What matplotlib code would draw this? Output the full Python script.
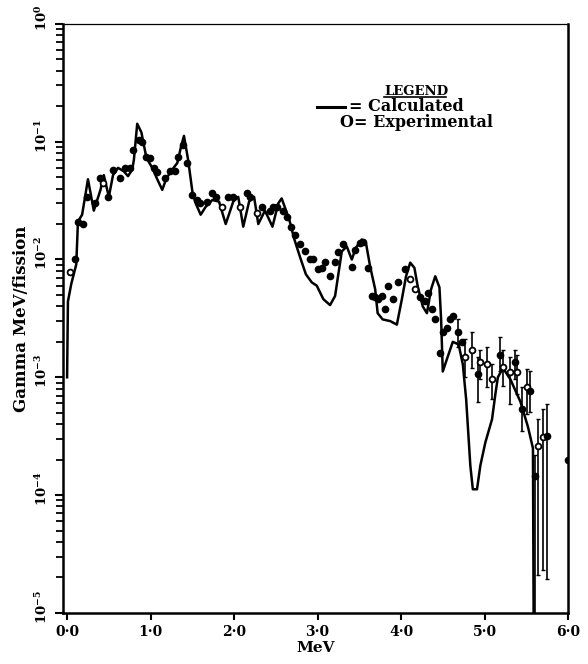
import numpy as np
import matplotlib
matplotlib.use("Agg")
from matplotlib import pyplot as plt
from matplotlib.ticker import LogLocator, NullFormatter
from matplotlib.lines import Line2D
from matplotlib.transforms import ScaledTranslation

plt.rcParams['font.family'] = ['DejaVu Serif']
plt.rcParams['font.weight'] = 'bold'
plt.rcParams['axes.labelweight'] = 'bold'
plt.rcParams['mathtext.fontset'] = 'dejavuserif'
plt.rcParams['mathtext.default'] = 'bf'

# calculated spectrum (MeV, gamma MeV/fission)
calc_E = [0.00, 0.01, 0.05, 0.11, 0.13, 0.18, 0.25, 0.32, 0.40, 0.44, 0.50,
          0.55, 0.61, 0.68, 0.73, 0.78, 0.80, 0.84, 0.89, 0.95, 1.02, 1.08,
          1.14, 1.19, 1.26, 1.32, 1.37, 1.40, 1.45, 1.50, 1.54, 1.60, 1.66,
          1.74, 1.82, 1.90, 1.99, 2.05, 2.11, 2.18, 2.24, 2.29, 2.37, 2.46,
          2.53, 2.57, 2.66, 2.72, 2.79, 2.86, 2.93, 2.99, 3.07, 3.15, 3.21,
          3.29, 3.35, 3.41, 3.46, 3.53, 3.58, 3.63, 3.69, 3.72, 3.78, 3.87,
          3.95, 4.01, 4.06, 4.11, 4.16, 4.20, 4.26, 4.31, 4.36, 4.41, 4.46,
          4.48, 4.50, 4.56, 4.62, 4.69, 4.74, 4.78, 4.83, 4.86, 4.91, 4.95,
          5.01, 5.09, 5.13, 5.16, 5.22, 5.31, 5.43, 5.52, 5.58, 5.60]
calc_G = [1.0e-3, 4.4e-3, 6.2e-3, 9.1e-3, 2.1e-2, 2.4e-2, 4.8e-2, 2.6e-2,
          3.9e-2, 5.2e-2, 3.4e-2, 5.2e-2, 6.0e-2, 5.6e-2, 5.1e-2, 5.8e-2,
          7.0e-2, 1.42e-1, 1.2e-1, 7.3e-2, 6.0e-2, 4.8e-2, 3.9e-2, 4.9e-2,
          5.8e-2, 6.6e-2, 9.4e-2, 1.12e-1, 7.0e-2, 3.8e-2, 3.0e-2, 2.4e-2,
          2.8e-2, 3.2e-2, 3.1e-2, 2.0e-2, 3.1e-2, 3.4e-2, 1.9e-2, 3.1e-2,
          3.4e-2, 2.0e-2, 2.6e-2, 1.9e-2, 3.0e-2, 3.3e-2, 2.2e-2, 1.5e-2,
          1.05e-2, 7.5e-3, 6.4e-3, 6.0e-3, 4.6e-3, 4.1e-3, 4.9e-3, 1.17e-2,
          1.29e-2, 1.0e-2, 1.26e-2, 1.48e-2, 1.38e-2, 8.7e-3, 5.6e-3, 3.5e-3,
          3.1e-3, 3.0e-3, 2.8e-3, 4.6e-3, 7.2e-3, 9.4e-3, 8.5e-3, 5.9e-3,
          4.0e-3, 3.5e-3, 5.6e-3, 7.2e-3, 5.8e-3, 3.1e-3, 1.12e-3, 1.5e-3,
          2.0e-3, 1.9e-3, 1.29e-3, 6.5e-4, 1.78e-4, 1.12e-4, 1.12e-4, 1.78e-4,
          2.8e-4, 4.4e-4, 7.2e-4, 1.0e-3, 1.2e-3, 9.6e-4, 6.2e-4, 3.8e-4,
          2.5e-4, 1e-7]

# experimental points, filled, no error bars
exp_E = [0.10, 0.13, 0.19, 0.24, 0.34, 0.40, 0.49, 0.55, 0.63, 0.69, 0.75,
         0.79, 0.86, 0.90, 0.95, 0.99, 1.04, 1.08, 1.17, 1.23, 1.29, 1.33,
         1.39, 1.44, 1.50, 1.56, 1.59, 1.68, 1.74, 1.78, 1.93, 1.99, 2.16,
         2.19, 2.34, 2.43, 2.47, 2.51, 2.59, 2.63, 2.68, 2.73, 2.79, 2.85,
         2.91, 2.95, 3.01, 3.05, 3.09, 3.15, 3.21, 3.25, 3.31, 3.41, 3.45,
         3.51, 3.54, 3.60, 3.65, 3.69, 3.72, 3.77, 3.81, 3.84, 3.90, 3.96,
         4.05, 4.23, 4.29, 4.32, 4.37, 4.41, 4.47, 4.50, 4.55, 4.59, 4.62,
         4.73, 6.00]
exp_G = [1.0e-2, 2.1e-2, 2.0e-2, 3.4e-2, 3.0e-2, 4.9e-2, 3.4e-2, 5.8e-2,
         4.9e-2, 6.0e-2, 6.0e-2, 8.5e-2, 1.04e-1, 1.0e-1, 7.4e-2, 7.3e-2,
         6.0e-2, 5.5e-2, 4.9e-2, 5.6e-2, 5.6e-2, 7.4e-2, 9.4e-2, 6.6e-2,
         3.5e-2, 3.2e-2, 3.0e-2, 3.1e-2, 3.7e-2, 3.4e-2, 3.4e-2, 3.4e-2,
         3.7e-2, 3.4e-2, 2.8e-2, 2.6e-2, 2.8e-2, 2.8e-2, 2.6e-2, 2.3e-2,
         1.9e-2, 1.6e-2, 1.35e-2, 1.17e-2, 1.0e-2, 1.0e-2, 8.3e-3, 8.5e-3,
         9.6e-3, 7.2e-3, 9.6e-3, 1.15e-2, 1.35e-2, 8.7e-3, 1.2e-2, 1.38e-2,
         1.4e-2, 8.5e-3, 4.9e-3, 4.8e-3, 4.6e-3, 4.9e-3, 3.8e-3, 5.9e-3,
         4.6e-3, 6.5e-3, 8.3e-3, 4.8e-3, 4.4e-3, 5.2e-3, 3.8e-3, 3.1e-3,
         1.6e-3, 2.4e-3, 2.6e-3, 3.1e-3, 3.3e-3, 2.0e-3, 2.0e-4]

# experimental points, open, no error bars
open_E = [0.04, 0.43, 1.86, 2.07, 2.28, 4.11, 4.17]
open_G = [7.8e-3, 4.5e-2, 2.8e-2, 2.8e-2, 2.5e-2, 6.8e-3, 5.6e-3]

# experimental points with error bars (open = 1 for hollow marker)
bar_E = [4.68, 4.77, 4.85, 4.92, 4.95, 5.03, 5.09, 5.19, 5.22, 5.31, 5.37,
         5.39, 5.45, 5.51, 5.54, 5.60, 5.64, 5.70, 5.75]
bar_G = [2.4e-3, 1.5e-3, 1.7e-3, 1.07e-3, 1.35e-3, 1.3e-3, 9.6e-4, 1.55e-3,
         1.23e-3, 1.1e-3, 1.35e-3, 1.1e-3, 5.4e-4, 8.3e-4, 7.6e-4, 1.45e-4,
         2.6e-4, 3.1e-4, 3.2e-4]
bar_lo = [1.8e-3, 1.0e-3, 1.2e-3, 6.2e-4, 9.6e-4, 8.3e-4, 6.5e-4, 1.12e-3,
          8.5e-4, 5.9e-4, 9.6e-4, 7.2e-4, 3.5e-4, 4.9e-4, 5.1e-4, 1e-7,
          2.1e-5, 2.3e-5, 1.95e-5]
bar_hi = [3.1e-3, 2.1e-3, 2.4e-3, 1.48e-3, 1.7e-3, 1.8e-3, 1.3e-3, 2.2e-3,
          1.7e-3, 1.5e-3, 1.7e-3, 1.55e-3, 8.3e-4, 1.17e-3, 1.12e-3, 2.2e-4,
          4.4e-4, 5.4e-4, 5.9e-4]
bar_open = [0, 1, 1, 0, 1, 1, 1, 0, 1, 1, 0, 1, 0, 1, 0, 0, 1, 1, 0]

y_ticks = [1e-5, 1e-4, 1e-3, 1e-2, 1e-1, 1e0]
y_tick_labels = [r'$10^{-5}$', r'$10^{-4}$', r'$10^{-3}$', r'$10^{-2}$',
                 r'$10^{-1}$', r'$10^{0}$']
x_ticks = [0, 1, 2, 3, 4, 5, 6]
x_tick_labels = ['0·0', '1·0', '2·0', '3·0', '4·0', '5·0', '6·0']

fig = plt.figure(figsize=(5.88, 6.64), dpi=100)
ax = fig.add_axes([0.107, 0.077, 0.859, 0.887])

ax.plot(calc_E, calc_G, color='black', lw=1.8, solid_joinstyle='round',
        zorder=3)

bar_G_arr = np.array(bar_G)
yerr = [bar_G_arr - np.array(bar_lo), np.array(bar_hi) - bar_G_arr]
ax.errorbar(bar_E, bar_G, yerr=yerr, fmt='none', ecolor='black',
            elinewidth=1.2, capsize=1.5, capthick=1.0, zorder=4)

ax.plot(exp_E, exp_G, 'o', color='black', ms=4.5, zorder=5)
ax.plot(open_E, open_G, 'o', mfc='white', mec='black', mew=1.3, ms=4.2,
        zorder=5)
for e, g, o in zip(bar_E, bar_G, bar_open):
    if o:
        ax.plot(e, g, 'o', mfc='white', mec='black', mew=1.3, ms=4.2,
                zorder=5)
    else:
        ax.plot(e, g, 'o', color='black', ms=4.5, zorder=5)

ax.set_yscale('log')
ax.set_ylim(1e-5, 1e0)
ax.set_xlim(-0.05, 6.0)

ax.set_yticks(y_ticks)
ax.set_yticklabels(y_tick_labels, rotation=90, va='center', fontsize=9.5)
ax.yaxis.set_minor_locator(LogLocator(base=10, subs=np.arange(2, 10)))
ax.yaxis.set_minor_formatter(NullFormatter())
ax.tick_params(axis='y', which='major', direction='out', length=6,
               width=1.5, pad=3)
ax.tick_params(axis='y', which='minor', direction='out', length=5,
               width=1.3)
shift = ScaledTranslation(0, 0.06, fig.dpi_scale_trans)
for lab in ax.get_yticklabels():
    lab.set_transform(lab.get_transform() + shift)

ax.set_xticks(x_ticks)
ax.set_xticklabels(x_tick_labels, fontsize=10)
ax.tick_params(axis='x', direction='out', length=5, width=1.5, pad=4)

for side in ['left', 'bottom', 'right']:
    ax.spines[side].set_linewidth(1.8)
ax.spines['top'].set_linewidth(0.9)

ax.set_xlabel('MeV', fontsize=11, labelpad=1)
ax.set_ylabel('Gamma MeV/fission', fontsize=12, labelpad=3)

# hand-drawn legend block
ax.text(0.699, 0.886, 'LEGEND', transform=ax.transAxes, ha='center',
        va='center', fontsize=9.5)
ax.add_line(Line2D([0.636, 0.758], [0.876, 0.876], transform=ax.transAxes,
                   color='black', lw=1.2))
ax.add_line(Line2D([0.503, 0.558], [0.859, 0.859], transform=ax.transAxes,
                   color='black', lw=2.2))
ax.text(0.566, 0.859, '= Calculated', transform=ax.transAxes, ha='left',
        va='center', fontsize=11.5)
ax.text(0.549, 0.832, 'O= Experimental', transform=ax.transAxes, ha='left',
        va='center', fontsize=11.5)

fig.savefig('out.png', dpi=100)
